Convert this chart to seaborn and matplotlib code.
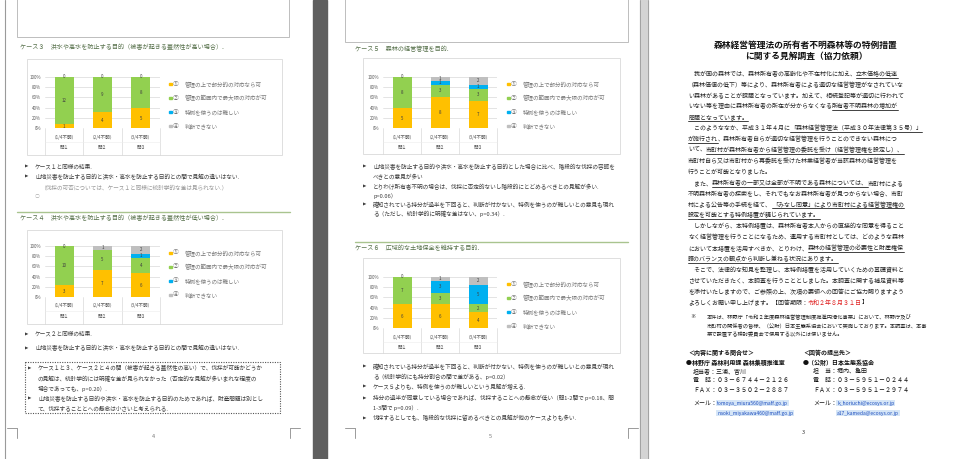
import numpy as np
import pandas as pd
import matplotlib
matplotlib.use('Agg')
import matplotlib.pyplot as plt
import seaborn as sns
from matplotlib.patches import Rectangle

sns.set_theme(style='white')
plt.rcParams['font.family'] = ['Noto Sans CJK JP', 'DejaVu Sans']
plt.rcParams['axes.unicode_minus'] = False

# ---------------- data ----------------
questions = ['問１', '問２', '問３']
question_notes = ['（1/4不明）', '（2/4不明）', '（3/4不明）']
answer_marks = ['①', '②', '③', '④']
answer_labels = ['管理の上で部分的の対応なら可', '管理の範囲内で最大限の対応が可',
                 '特例を使うのは難しい', '判断できない']
answer_colors = ['#FFC000', '#92D050', '#00B0F0', '#BFBFBF']
ytick_values = [0, 20, 40, 60, 80, 100]

case3_a1 = [1, 4, 5]
case3_a2 = [12, 9, 8]
case3_a3 = [0, 0, 0]
case3_a4 = [0, 0, 0]

case4_a1 = [3, 7, 6]
case4_a2 = [10, 5, 4]
case4_a3 = [0, 0, 1]
case4_a4 = [0, 1, 2]

case5_a1 = [5, 8, 7]
case5_a2 = [8, 3, 3]
case5_a3 = [0, 1, 1]
case5_a4 = [0, 1, 2]

case6_a1 = [6, 6, 4]
case6_a2 = [7, 3, 2]
case6_a3 = [0, 3, 5]
case6_a4 = [0, 1, 2]

case_titles = ['ケース３　洪水や高水を防止する目的（被害が起きる蓋然性が高い場合）.',
               'ケース４　洪水や高水を防止する目的（被害が起きる蓋然性が低い場合）.',
               'ケース５　森林の経営管理を目的.',
               'ケース６　広域的な土地保全を維持する目的.']

# ---------------- figure ----------------
W, H = 957, 459
fig = plt.figure(figsize=(W / 100, H / 100), dpi=100)
fig.patch.set_facecolor('white')
bg = fig.add_axes([0, 0, 1, 1])
bg.set_xlim(0, W)
bg.set_ylim(H, 0)
bg.axis('off')
renderer = fig.canvas.get_renderer()
inv = bg.transData.inverted()

TXT = '#3c3c3c'
HEAD = '#56704a'
GRID = '#d9d9d9'
LEG = '#7a7a7a'


def runs(x, y, parts, size, color=TXT, weight='normal', ul_off=3.6):
    """Draw consecutive text runs; parts are str or (text, underline, color)."""
    for p in parts:
        if isinstance(p, str):
            txt, ul, col = p, False, color
        else:
            txt, ul, col = p
        t = bg.text(x, y, txt, fontsize=size, color=col, fontweight=weight,
                    va='center', ha='left')
        bb = t.get_window_extent(renderer)
        x0 = inv.transform((bb.x0, bb.y0))[0]
        x1 = inv.transform((bb.x1, bb.y1))[0]
        if ul:
            bg.plot([x0, x1], [y + ul_off, y + ul_off], color='#222222', lw=0.6)
        x = x1
    return x


# ---------------- page backgrounds ----------------
bg.plot([5, 5], [0, H], color='#9a9a9a', lw=0.8)
bg.add_patch(Rectangle((313, 0), 14, H, color='#5f5f5f', zorder=1))
bg.add_patch(Rectangle((640, 0), 8, H, color='#d4d4d4', zorder=1))
bg.plot([648, 648], [0, H], color='#9a9a9a', lw=0.6)
bg.plot([640, 640], [0, H], color='#9a9a9a', lw=0.6)

# top boxes (end of previous sections)
bg.add_patch(Rectangle((17, -5), 272, 42, fill=False, ec='#bdbdbd', lw=0.7))
bg.add_patch(Rectangle((345, -5), 283, 47, fill=False, ec='#bdbdbd', lw=0.7))

# separators
bg.plot([17, 290], [212, 212], color='#a9c48f', lw=1.0)
bg.plot([355, 628], [242, 242], color='#a9c48f', lw=1.0)

# crop marks
cm = dict(color='#9a9a9a', lw=0.7)
bg.plot([7, 17], [428, 428], **cm); bg.plot([17, 17], [428, 438], **cm)
bg.plot([290, 300], [428, 428], **cm); bg.plot([290, 290], [428, 438], **cm)
bg.plot([345, 355], [428, 428], **cm); bg.plot([355, 355], [428, 438], **cm)
bg.plot([628, 638], [428, 428], **cm); bg.plot([628, 628], [428, 438], **cm)

# ---------------- charts ----------------
charts = [
    dict(box=(27, 59, 282, 155), plot=(45, 160, 77, 128), leg=(169, 84),
         data=(case3_a1, case3_a2, case3_a3, case3_a4), pos=(20, 47)),
    dict(box=(27, 230, 282, 324), plot=(45, 160, 246, 297), leg=(169, 253),
         data=(case4_a1, case4_a2, case4_a3, case4_a4), pos=(20, 218)),
    dict(box=(363, 58, 620, 154), plot=(383, 497, 77, 128), leg=(507, 84),
         data=(case5_a1, case5_a2, case5_a3, case5_a4), pos=(355, 49)),
    dict(box=(363, 258, 620, 353), plot=(383, 497, 277, 328), leg=(507, 284),
         data=(case6_a1, case6_a2, case6_a3, case6_a4), pos=(355, 248)),
]


def draw_chart(ax, a1, a2, a3, a4):
    df = pd.DataFrame({'問': questions * 4,
                       '回答': np.repeat(answer_labels, len(questions)),
                       '件数': list(a1) + list(a2) + list(a3) + list(a4)})
    df['割合'] = df['件数'] / df.groupby('問')['件数'].transform('sum') * 100
    df['累積'] = df.groupby('問')['割合'].cumsum()
    for k in reversed(range(len(answer_labels))):
        sub = df[df['回答'] == answer_labels[k]]
        sns.barplot(data=sub, x='問', y='累積', order=questions, color=answer_colors[k],
                    saturation=1, width=0.5, errorbar=None, ax=ax, linewidth=0, zorder=3)
    for _, r in df.iterrows():
        if r['件数'] > 0:
            i = questions.index(r['問'])
            ax.text(i, r['累積'] - r['割合'] / 2, str(r['件数']), ha='center', va='center',
                    fontsize=3.2, color='#404040', zorder=5)
    for i in range(len(questions)):
        if a4[i] == 0:
            ax.text(i, 100, '0', ha='center', va='center', fontsize=3.2,
                    color='#404040', zorder=5, clip_on=False)
    ax.set_xlim(-0.5, 2.5)
    ax.set_ylim(0, 100)
    ax.set_yticks(ytick_values)
    ax.set_yticklabels([f'{v}%' for v in ytick_values], fontsize=3.2, color='#595959')
    ax.tick_params(axis='y', length=0, pad=3)
    ax.set_xticks([])
    ax.set_xlabel('')
    ax.set_ylabel('')
    ax.grid(axis='y', color=GRID, lw=0.5)
    ax.set_axisbelow(True)
    for s in ax.spines.values():
        s.set_visible(False)
    ax.patch.set_alpha(0)


for ch, title in zip(charts, case_titles):
    bx0, by0, bx1, by1 = ch['box']
    xl, xr, yt, yb = ch['plot']
    bg.add_patch(Rectangle((bx0, by0), bx1 - bx0, by1 - by0, fill=False, ec=GRID, lw=0.6))
    ax = fig.add_axes([xl / W, 1 - yb / H, (xr - xl) / W, (yb - yt) / H])
    draw_chart(ax, *ch['data'])
    # category table
    cw = (xr - xl) / 3
    for j in range(4):
        bg.plot([xl + j * cw] * 2, [yb, by1], color=GRID, lw=0.5)
    bg.plot([xl, xr], [yb + 14, yb + 14], color='#ececec', lw=0.4)
    for i in range(3):
        cx = xl + (i + 0.5) * cw
        bg.text(cx, yb + 9, question_notes[i], fontsize=3.3, ha='center', va='center', color='#595959')
        bg.text(cx, yb + 19, questions[i], fontsize=3.3, ha='center', va='center', color='#595959')
    # legend
    lx, ly = ch['leg']
    for k in range(4):
        y = ly + k * 14
        bg.add_patch(Rectangle((lx, y - 1.2), 2.5, 2.5, color=answer_colors[k]))
        bg.text(lx + 3.5, y, answer_marks[k], fontsize=4.2, va='center', color=LEG)
        bg.text(lx + 16, y, answer_labels[k], fontsize=4.0, va='center', color=LEG)
    # heading
    px, py = ch['pos']
    bg.text(px, py, title, fontsize=4.4, color=HEAD, va='center')

# ---------------- page 1 text ----------------
FS = 4.1
bul = '▶'


def bullet(x, y, text, mark=True):
    if mark:
        bg.text(x, y, bul, fontsize=3.2, color=TXT, va='center',
                family=['DejaVu Sans'])
    bg.text(x + 10, y, text, fontsize=FS, color=TXT, va='center')


bullet(25, 167, 'ケース１と同様の結果.')
bullet(25, 177, '山地災害を防止する目的と洪水・高水を防止する目的との間で見解の違いはない.')
bg.text(40, 188, '（伐採の可否については、ケース１と同様に統計学的な差は見られない.）',
        fontsize=FS, color='#9a9a9a', va='center')
bg.text(35, 197, '○', fontsize=3.5, color='#b0b0b0', va='center')

bullet(25, 334, 'ケース２と同様の結果.')
bullet(25, 348, '山地災害を防止する目的と洪水・高水を防止する目的との間で見解の違いはない.')

bg.add_patch(Rectangle((25, 362), 255, 51, fill=False, ec='#555555', lw=0.8, ls=(0, (1, 1.2))))
bullet(28, 368, 'ケース１と３、ケース２と４の間（被害が起きる蓋然性の高い）で、伐採が可能かどうか')
bullet(28, 379, 'の見解は、統計学的には明確な差が見られなかった（否定的な見解が多いまれな程度の', mark=False)
bullet(28, 389, '場合であっても、p=0.20）.', mark=False)
bullet(28, 399, '山地災害を防止する目的や洪水・高水を防止する目的のためであれば、財産問題は別とし')
bullet(28, 408, 'て、伐採することとへの懸念は小さいと考えられる.', mark=False)
bg.text(153, 437, '4', fontsize=4, color='#777777', va='center', ha='center')

# ---------------- page 2 text ----------------
bullet(363, 167, '山地災害を防止する目的や洪水・高水を防止する目的とした場合に比べ、階段的な伐採の容認を')
bullet(363, 177, 'べきとの意見が多い', mark=False)
bullet(363, 187, 'とりわけ所有者不明の場合は、伐採に否定的ないし階段的にとどめるべきとの見解が多い.')
bullet(363, 196, 'p=0.06）', mark=False)
bullet(363, 205, '確知されている持分が過半を下回ると、判断が付かない、特例を使うのが難しいとの意見も現れ')
bullet(363, 214, 'る（ただし、統計学的に明確な差はない、p=0.34）.', mark=False)

bullet(363, 367, '確知されている持分が過半を下回ると、判断が付かない、特例を使うのが難しいとの意見が現れ')
bullet(363, 377, 'る（統計学的にも持分割合の間で差がある、p=0.02）', mark=False)
bullet(363, 387, 'ケース５よりも、特例を使うのが難しいという見解が増える.')
bullet(363, 398, '持分の過半が同意している場合であれば、伐採することへの懸念が低い（問1-2間で p=0.18、問')
bullet(363, 408, '1-3間で p=0.09）.', mark=False)
bullet(363, 418, '伐採するとしても、階段的な伐採に留めるべきとの見解が他のケースよりも多い.')
bg.text(490, 437, '5', fontsize=4, color='#777777', va='center', ha='center')

# ---------------- page 3 text ----------------
bg.text(806, 45, '森林経営管理法の所有者不明森林等の特例措置', fontsize=6.3,
        fontweight='bold', ha='center', va='center', color='#111111')
bg.text(806, 56, 'に関する見解調査（協力依頼）', fontsize=6.3,
        fontweight='bold', ha='center', va='center', color='#111111')

B3 = 4.3
body = [
    ['　我が国の森林では、森林所有者の高齢化や不在村化に加え、', ('立木価格の低迷', True, '#222')],
    ['（森林価値の低下）等により、森林所有者による適切な経営管理がなされていな'],
    ['い森林があることが課題となっています。加えて、相続登記等が適切に行われて'],
    ['いない等を理由に森林所有者の所在が分からなくなる', ('所有者不明森林の増加が', True, '#222')],
    [('問題となっています。', True, '#222')],
    ['　このようななか、平成３１年４月に', ('「森林経営管理法（平成３０年法律第３５号）」', True, '#222')],
    [('が施行され', True, '#222'), '、森林所有者自らが適切な経営管理を行うことのできない森林につ'],
    ['いて、', ('市町村が森林所有者から経営管理の委託を受け（経営管理権を設定し）、', True, '#222')],
    ['市町村自ら又は市町村から再委託を受けた林業経営者が当該森林の経営管理を'],
    ['行うことが可能となりました。'],
    ['　また、', ('森林所有者の一部又は全部が不明である森林については、', True, '#222'), '市町村による'],
    ['不明森林所有者の探索をし、それでもなお森林所有者が見つからない場合、市町'],
    ['村による公告等の手続を経て、', ('「みなし同意」により市町村による経営管理権の', True, '#222')],
    [('設定を可能とする特例措置が講じられています。', True, '#222')],
    ['　しかしながら、本特例措置は、森林所有者本人からの直接的な同意を得ること'],
    ['なく経営管理を行うことになるため、運用する市町村としては、どのような森林'],
    ['において本措置を活用すべきか、とりわけ、', ('森林の経営管理の必要性と財産権保', True, '#222')],
    [('護のバランスの観点から判断し兼ねる状況にあります。', True, '#222')],
    ['　そこで、法律的な知見を整理し、本特例措置を活用していくための基礎資料と'],
    ['させていただきたく、本調査を行うこととしました。本調査に関する補足資料等'],
    ['を添付いたしますので、ご参照の上、次項の要領への回答にご協力賜りますよう'],
    ['よろしくお願い申し上げます。【回答期限：', ('令和２年８月３１日', False, '#e02020'), '】'],
]
for i, parts in enumerate(body):
    runs(688, 74 + i * 10.9, parts, B3, color='#222222')

NS = 3.8
bg.text(690, 316, '※', fontsize=NS, color='#222', va='center')
bg.text(707, 316, '本件は、林野庁「令和２年度森林経営管理制度推進円滑化事業」において、林野庁及び',
        fontsize=NS, color='#222', va='center')
bg.text(707, 326, '市町村の関係者の皆様、（公財）日本生態系協会において実施しております。本調査は、本事',
        fontsize=NS, color='#222', va='center')
bg.text(707, 335, '業で設置する検討委員会で使用する以外には使いません。',
        fontsize=NS, color='#222', va='center')

CS = 4.3
bg.text(688, 352, '＜内容に関する問合せ＞', fontsize=CS, fontweight='bold', color='#111', va='center')
bg.text(803, 352, '＜回答の提出先＞', fontsize=CS, fontweight='bold', color='#111', va='center')
bg.text(686, 362, '●林野庁 森林利用課 森林集積推進室', fontsize=CS, fontweight='bold', color='#111', va='center')
bg.text(803, 362, '●（公財）日本生態系協会', fontsize=CS, fontweight='bold', color='#111', va='center')
contact_l = ['担当者：三浦、宮川', '電　話：０３－６７４４－２１２６', 'ＦＡＸ：０３－３５０２－２８８７']
contact_r = ['担　当：堀内、亀田', '電　話：０３－５９５１－０２４４', 'ＦＡＸ：０３－５９５１－２９７４']
for i, (l, r) in enumerate(zip(contact_l, contact_r)):
    bg.text(693, 371 + i * 9.5, l, fontsize=CS, color='#111', va='center')
    bg.text(813, 371 + i * 9.5, r, fontsize=CS, color='#111', va='center')
bg.text(693, 403, 'メール：', fontsize=CS, color='#111', va='center')
bg.text(813, 403, 'メール：', fontsize=CS, color='#111', va='center')
link = dict(fontsize=3.6, color='#1f4fbf', va='center',
            bbox=dict(boxstyle='square,pad=0.15', fc='#d6e6f7', ec='none'))
bg.text(717, 403, 'tomoya_miura560@maff.go.jp', **link)
bg.text(717, 413, 'naoki_miyakawa460@maff.go.jp', **link)
bg.text(837, 403, 'k_horiuchi@ecosys.or.jp', **link)
bg.text(837, 413, 'a17_kameda@ecosys.or.jp', **link)
bg.text(803, 433, '3', fontsize=4, color='#333', va='center', ha='center')

fig.savefig('out.png', dpi=100)
